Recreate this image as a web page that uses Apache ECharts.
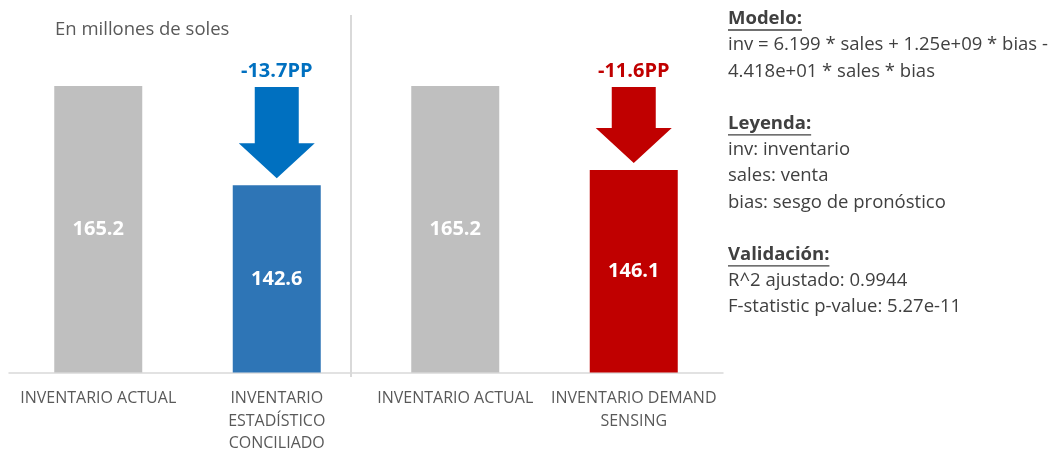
<!DOCTYPE html>
<html>
<head>
<meta charset="utf-8">
<script src="https://cdn.jsdelivr.net/npm/echarts@6/dist/echarts.min.js"></script>
<style>
  html, body { margin: 0; padding: 0; background: #fff; }
  #chart { width: 1056px; height: 455px; }
</style>
</head>
<body>
<div id="chart"></div>
<script>
// Inventory comparison: current vs. statistical and demand-sensing scenarios
const categories = [
  'INVENTARIO ACTUAL',
  'INVENTARIO\nESTADÍSTICO\nCONCILIADO',
  'INVENTARIO ACTUAL',
  'INVENTARIO DEMAND\nSENSING'
];
const values = [165.2, 142.6, 165.2, 146.1];
const barColors = ['#BFBFBF', '#2E75B6', '#BFBFBF', '#C00000'];

// Reduction arrows: [category index, reference value, scenario value]
const arrowData = [[1, 165.2, 142.6], [3, 165.2, 146.1]];
const arrowLabels = ['-13.7PP', '-11.6PP'];
const arrowColors = ['#0070C0', '#C00000'];

// Side notes about the regression model
const notes = [
  { text: 'Modelo:', head: true },
  { text: 'inv = 6.199 * sales + 1.25e+09 * bias -' },
  { text: '4.418e+01 * sales * bias' },
  { text: '' },
  { text: 'Leyenda:', head: true },
  { text: 'inv: inventario' },
  { text: 'sales: venta' },
  { text: 'bias: sesgo de pronóstico' },
  { text: '' },
  { text: 'Validación:', head: true },
  { text: 'R^2 ajustado: 0.9944' },
  { text: 'F-statistic p-value: 5.27e-11' }
];

const FONT = '"Open Sans", Lato, sans-serif';
const noteColor = '#404040';
const noteSize = 18.5;
const noteX = 728, noteY0 = 19, noteStep = 26.2;

const measureCtx = document.createElement('canvas').getContext('2d');
function textWidth(str, weight, size) {
  measureCtx.font = weight + ' ' + size + 'px ' + FONT;
  return measureCtx.measureText(str).width;
}

const noteGraphics = [];
notes.forEach((n, i) => {
  if (!n.text) return;
  const y = noteY0 + i * noteStep;
  const weight = n.head ? 'bold' : 'normal';
  noteGraphics.push({
    type: 'text',
    x: noteX, y: y,
    style: {
      text: n.text, fill: noteColor, font: weight + ' ' + noteSize + 'px ' + FONT,
      textVerticalAlign: 'middle', textAlign: 'left'
    }
  });
  if (n.head) {
    const w = textWidth(n.text, weight, noteSize);
    noteGraphics.push({
      type: 'line',
      shape: { x1: noteX, y1: y + 11, x2: noteX + w, y2: y + 11 },
      style: { stroke: noteColor, lineWidth: 1.3 }
    });
  }
});

const chart = echarts.init(document.getElementById('chart'), null, { renderer: 'canvas' });

chart.setOption({
  animation: false,
  backgroundColor: '#ffffff',
  grid: { left: 9, right: 333, top: 21, bottom: 80, containLabel: false },
  xAxis: {
    type: 'category',
    data: categories,
    axisLine: { show: true, lineStyle: { color: '#D9D9D9', width: 1.5 } },
    axisTick: { show: false },
    axisLabel: {
      color: '#595959', fontFamily: FONT, fontSize: 16, lineHeight: 22.5,
      margin: 15, interval: 0
    }
  },
  yAxis: {
    type: 'value', min: 100, max: 180, show: false,
    splitLine: { show: false }
  },
  graphic: [
    {
      type: 'line',
      shape: { x1: 351, y1: 15, x2: 351, y2: 377 },
      style: { stroke: '#D9D9D9', lineWidth: 2 }
    },
    {
      type: 'text', x: 55, y: 30,
      style: {
        text: 'En millones de soles', fill: '#595959',
        font: '18.5px ' + FONT, textVerticalAlign: 'middle'
      }
    },
    ...noteGraphics
  ],
  series: [
    {
      type: 'bar',
      barWidth: 88,
      data: values.map((v, i) => ({ value: v, itemStyle: { color: barColors[i] } })),
      label: {
        show: true, position: 'inside', color: '#ffffff',
        fontFamily: FONT, fontWeight: 'bold', fontSize: 20,
        formatter: p => p.value.toFixed(1)
      }
    },
    {
      type: 'custom',
      data: arrowData,
      renderItem: (params, api) => {
        const i = params.dataIndex;
        const top = api.coord([api.value(0), api.value(1)]);
        const bottom = api.coord([api.value(0), api.value(2)]);
        const x = top[0];
        const y0 = top[1] + 1;
        const tip = bottom[1] - 7;
        const headH = 35, shaftW = 44, headW = 76;
        const neck = tip - headH;
        return {
          type: 'group',
          children: [
            {
              type: 'polygon',
              shape: {
                points: [
                  [x - shaftW / 2, y0], [x + shaftW / 2, y0], [x + shaftW / 2, neck],
                  [x + headW / 2, neck], [x, tip], [x - headW / 2, neck], [x - shaftW / 2, neck]
                ]
              },
              style: { fill: arrowColors[i] }
            },
            {
              type: 'text',
              x: x, y: y0 - 16,
              style: {
                text: arrowLabels[i], fill: arrowColors[i],
                font: 'bold 20px ' + FONT, textAlign: 'center', textVerticalAlign: 'middle'
              }
            }
          ]
        };
      }
    }
  ]
});
</script>
</body>
</html>
